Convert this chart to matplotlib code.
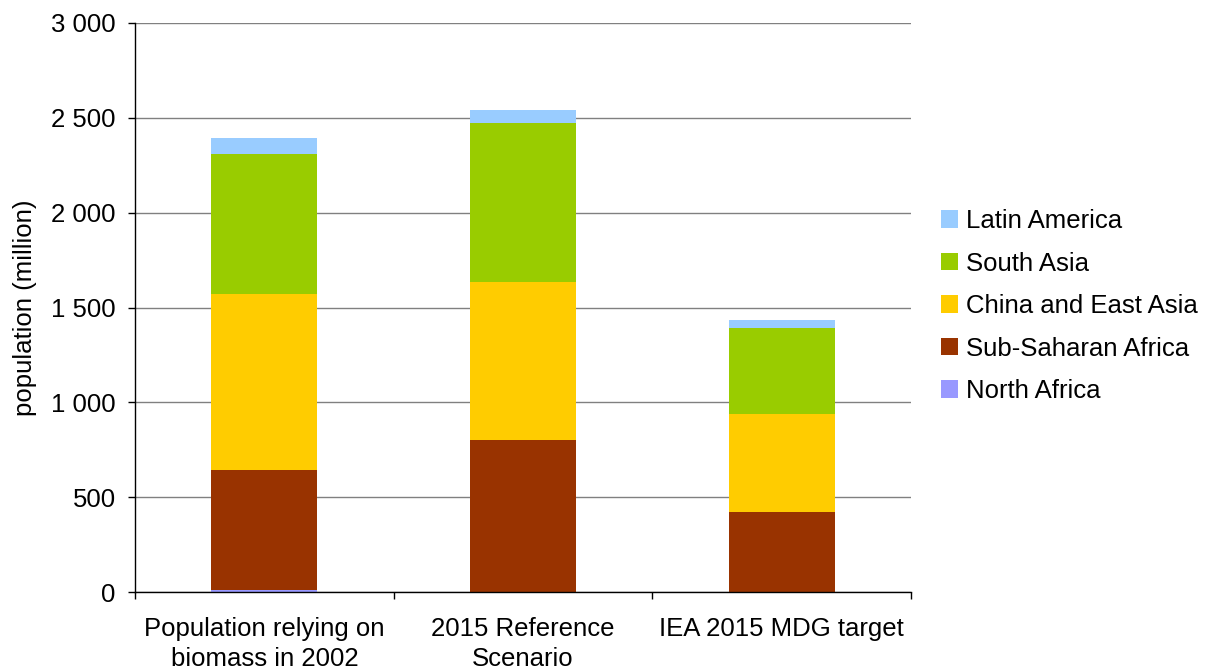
import matplotlib
matplotlib.use("Agg")
import matplotlib.pyplot as plt
import numpy as np

categories = ["Population relying on\nbiomass in 2002", "2015 Reference\nScenario", "IEA 2015 MDG target"]
regions = ["North Africa", "Sub-Saharan Africa", "China and East Asia", "South Asia", "Latin America"]
north_africa = [8, 0, 0]
sub_saharan_africa = [635, 801, 422]
china_east_asia = [928, 833, 516]
south_asia = [740, 839, 454]
latin_america = [83, 68, 42]
colors = ["#9999FF", "#993300", "#FFCC00", "#99CC00", "#99CCFF"]
yticks = [0, 500, 1000, 1500, 2000, 2500, 3000]

plt.rcParams["font.family"] = ["Liberation Sans", "DejaVu Sans"]
FS = 18.5

fig = plt.figure(figsize=(12.08, 6.72), dpi=100)
ax = fig.add_axes([135 / 1208, 80 / 672, 776 / 1208, 569 / 672])

x = np.arange(len(categories))
bottom = np.zeros(len(categories))
series = [north_africa, sub_saharan_africa, china_east_asia, south_asia, latin_america]
handles = []
for name, vals, col in zip(regions, series, colors):
    b = ax.bar(x, vals, width=0.41, bottom=bottom, color=col, label=name, zorder=3)
    handles.append(b)
    bottom += np.array(vals)

ax.set_xlim(-0.5, 2.5)
ax.set_ylim(0, 3000)
ax.set_yticks(yticks)
ax.set_yticklabels([f"{v:,}".replace(",", " ") for v in yticks], fontsize=FS)
ax.yaxis.grid(True, color="#808080", linewidth=1.0, zorder=0)
ax.tick_params(axis="y", length=5, width=1, pad=9, direction="out")

# boundaries as major ticks, labels on minor ticks
ax.set_xticks([-0.5, 0.5, 1.5, 2.5])
ax.set_xticklabels([])
ax.set_xticks(x, minor=True)
ax.set_xticklabels(categories, minor=True, fontsize=FS, linespacing=1.3)
ax.tick_params(axis="x", which="major", length=5, width=1, direction="out")
ax.tick_params(axis="x", which="minor", length=0, pad=18)

for side in ["top", "right"]:
    ax.spines[side].set_visible(False)
for side in ["left", "bottom"]:
    ax.spines[side].set_linewidth(1.0)
    ax.spines[side].set_zorder(4)

ax.set_ylabel("population (million)", fontsize=FS, labelpad=10)

fig.legend(
    handles[::-1],
    regions[::-1],
    loc="center left",
    bbox_to_anchor=(941 / 1208, (672 - 306) / 672),
    frameon=False,
    fontsize=FS,
    handlelength=0.68,
    handleheight=0.65,
    handletextpad=0.3,
    labelspacing=0.72,
    borderpad=0,
    borderaxespad=0,
)

fig.savefig("out.png", dpi=100)
